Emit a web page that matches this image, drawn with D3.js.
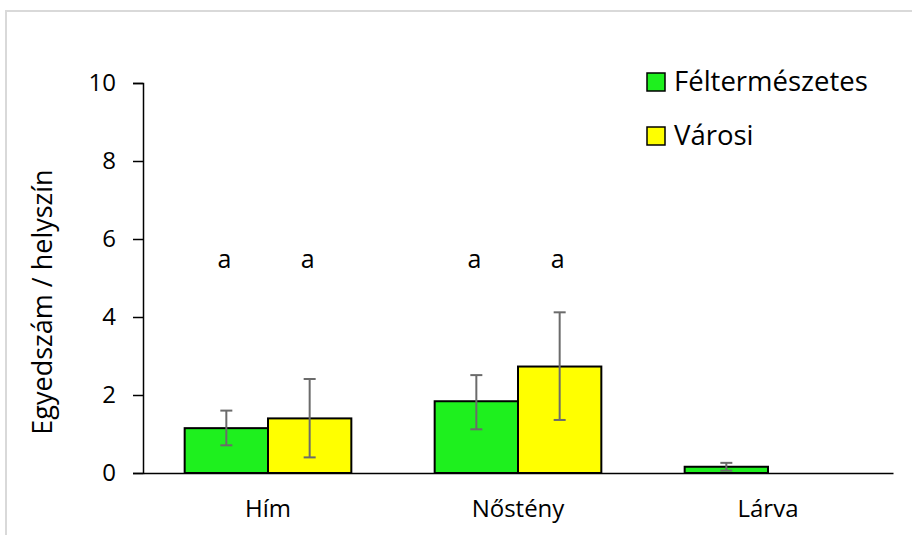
<!DOCTYPE html>
<html lang="hu">
<head>
<meta charset="UTF-8">
<title>Egyedszám / helyszín</title>
<script src="https://cdn.jsdelivr.net/npm/d3@7"></script>
<style>
  body { margin: 0; background: #fff; }
  text { font-family: "Open Sans", sans-serif; fill: #000; }
</style>
</head>
<body>
<svg id="svg"></svg>
<script>
var WIDTH = 912;
var HEIGHT = 535;
var LEFT = 143, RIGHT = 893, TOP = 83, BOTTOM = 473;

// data
var categories = ["Hím", "Nőstény", "Lárva"];
var seriesNames = ["Féltermészetes", "Városi"];
var seriesColors = ["#1ef01e", "#ffff00"];
var feltermeszetes = [1.15, 1.84, 0.16];
var varosi = [1.40, 2.73, 0];
var feltermeszetesLow = [0.71, 1.12, 0.06];
var feltermeszetesHigh = [1.60, 2.51, 0.26];
var varosiLow = [0.40, 1.36, null];
var varosiHigh = [2.41, 4.12, null];
var letters = [["a", "a"], ["a", "a"], ["", ""]];
var letterValue = 5.25;
var yTicks = [0, 2, 4, 6, 8, 10];

var rows = [];
categories.forEach(function(c, i){
    rows.push({cat: c, s: 0, value: feltermeszetes[i], low: feltermeszetesLow[i], high: feltermeszetesHigh[i], letter: letters[i][0]});
    rows.push({cat: c, s: 1, value: varosi[i], low: varosiLow[i], high: varosiHigh[i], letter: letters[i][1]});
});

var svg = d3.select("#svg")
            .attr("width", WIDTH)
            .attr("height", HEIGHT);

// chart area frame
svg.append("rect")
   .attr("x", 6).attr("y", 11)
   .attr("width", WIDTH + 10).attr("height", HEIGHT + 10)
   .attr("fill", "#fff")
   .attr("stroke", "#d9d9d9")
   .attr("stroke-width", 2);

var xScale = d3.scaleBand()
               .domain(categories)
               .range([LEFT, RIGHT])
               .paddingInner(1/3)
               .paddingOuter(1/6);

var xSub = d3.scaleBand()
             .domain([0, 1])
             .range([0, xScale.bandwidth()]);

var yScale = d3.scaleLinear()
               .domain([0, 10])
               .range([BOTTOM, TOP]);

// y axis
var yAxis = d3.axisLeft(yScale)
              .tickValues(yTicks)
              .tickSize(10)
              .tickPadding(17)
              .tickFormat(d3.format("d"));

var gy = svg.append("g")
   .attr("class", "y axis")
   .attr("transform", "translate(" + LEFT + ",0)")
   .call(yAxis);
gy.select(".domain").attr("stroke", "#000").attr("stroke-width", 1.5);
gy.selectAll(".tick line").attr("stroke", "#000").attr("stroke-width", 1.5);
gy.selectAll(".tick text")
  .attr("font-family", "Open Sans, sans-serif")
  .attr("font-size", 24)
  .attr("fill", "#000");

// bars
var bars = svg.append("g").attr("id", "bars");
bars.selectAll("rect")
    .data(rows.filter(function(d){ return d.value > 0; }))
    .enter()
    .append("rect")
    .attr("x", function(d){ return xScale(d.cat) + xSub(d.s); })
    .attr("y", function(d){ return yScale(d.value); })
    .attr("width", xSub.bandwidth())
    .attr("height", function(d){ return BOTTOM - yScale(d.value); })
    .attr("fill", function(d){ return seriesColors[d.s]; })
    .attr("stroke", "#000")
    .attr("stroke-width", 2);

// x axis
var xAxis = d3.axisBottom(xScale)
              .tickSize(0)
              .tickPadding(27);
var gx = svg.append("g")
   .attr("class", "x axis")
   .attr("transform", "translate(0," + BOTTOM + ")")
   .call(xAxis);
gx.select(".domain").attr("stroke", "#000").attr("stroke-width", 1.5);
gx.selectAll(".tick text")
  .attr("font-family", "Open Sans, sans-serif")
  .attr("font-size", 24)
  .attr("fill", "#000");

// error bars
var errs = svg.append("g").attr("id", "errors")
    .selectAll("g")
    .data(rows.filter(function(d){ return d.high != null; }))
    .enter()
    .append("g")
    .attr("stroke", "#6b6b6b")
    .attr("stroke-width", 2);
function cx(d){ return xScale(d.cat) + xSub(d.s) + xSub.bandwidth() / 2; }
errs.append("line")
    .attr("x1", cx).attr("x2", cx)
    .attr("y1", function(d){ return yScale(d.low); })
    .attr("y2", function(d){ return yScale(d.high); });
errs.append("line")
    .attr("x1", function(d){ return cx(d) - 6; })
    .attr("x2", function(d){ return cx(d) + 6; })
    .attr("y1", function(d){ return yScale(d.high); })
    .attr("y2", function(d){ return yScale(d.high); });
errs.append("line")
    .attr("x1", function(d){ return cx(d) - 6; })
    .attr("x2", function(d){ return cx(d) + 6; })
    .attr("y1", function(d){ return yScale(d.low); })
    .attr("y2", function(d){ return yScale(d.low); });

// significance letters
svg.append("g").attr("id", "letters")
   .selectAll("text")
   .data(rows.filter(function(d){ return d.letter; }))
   .enter()
   .append("text")
   .attr("x", function(d){ return cx(d) - 2; })
   .attr("y", yScale(letterValue))
   .attr("text-anchor", "middle")
   .attr("font-size", 25)
   .text(function(d){ return d.letter; });

// y axis title
svg.append("text")
   .attr("transform", "translate(52," + ((TOP + BOTTOM) / 2 + 24) + ") rotate(-90)")
   .attr("text-anchor", "middle")
   .attr("font-size", 27)
   .text("Egyedszám / helyszín");

// legend
var legend = svg.append("g")
    .attr("transform", "translate(647,73)")
    .selectAll("g")
    .data(seriesNames)
    .enter()
    .append("g")
    .attr("transform", function(d, i){ return "translate(0," + (i * 54) + ")"; });
legend.append("rect")
      .attr("width", 18).attr("height", 18)
      .attr("fill", function(d, i){ return seriesColors[i]; })
      .attr("stroke", "#000")
      .attr("stroke-width", 1.5);
legend.append("text")
      .attr("x", 27)
      .attr("y", 18)
      .attr("font-size", 27.5)
      .text(function(d){ return d; });
</script>
</body>
</html>
